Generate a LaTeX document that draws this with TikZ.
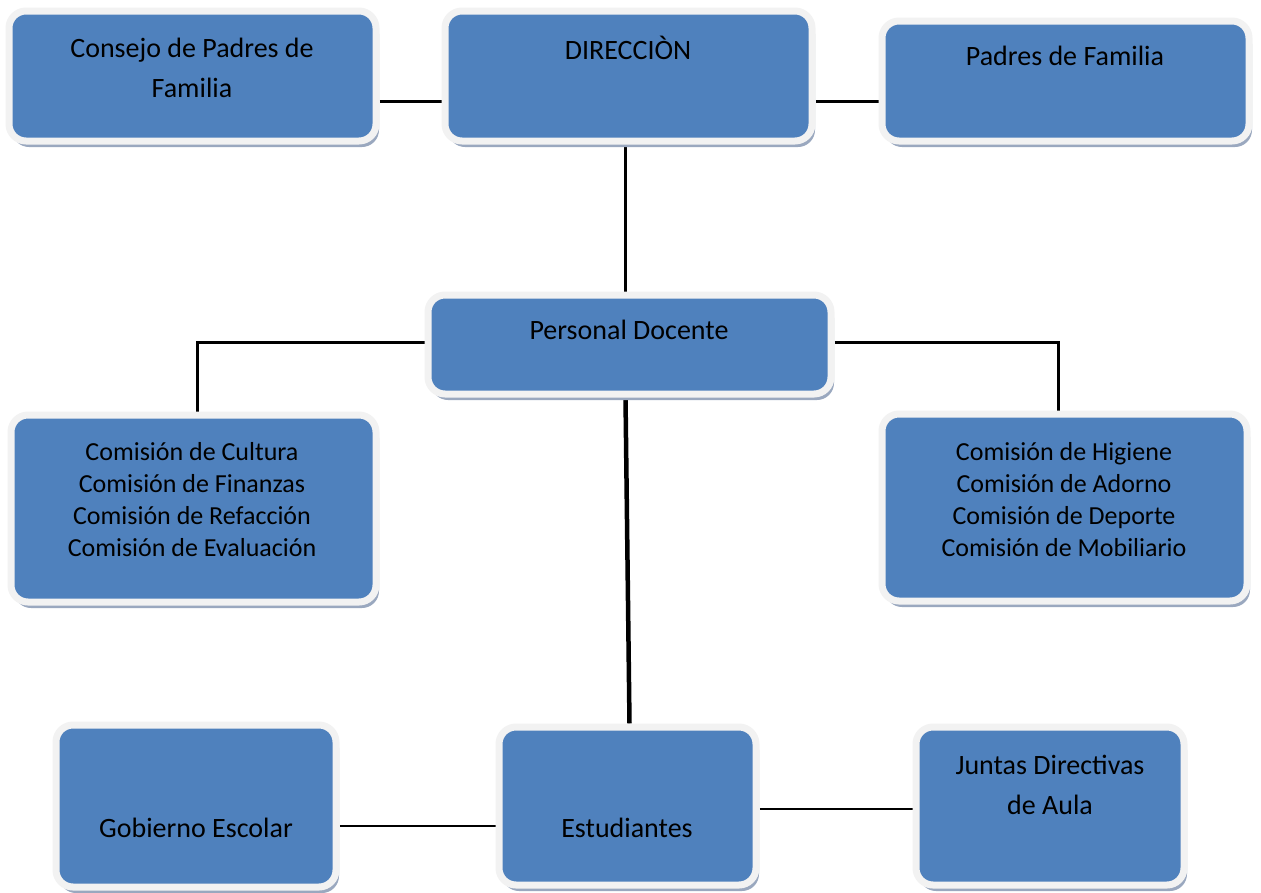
\documentclass[tikz,border=0pt]{standalone}
\usepackage{fontspec}
\setmainfont{Carlito}
\usetikzlibrary{shadows,backgrounds}
\definecolor{boxblue}{HTML}{4F81BD}
\definecolor{boxrim}{HTML}{F2F2F2}
\definecolor{shadowblue}{HTML}{9AA8BF}
\tikzset{
  orgbox/.style={rectangle,rounded corners=17pt,fill=boxblue,draw=boxrim,line width=7pt,
    drop shadow={shadow xshift=3pt,shadow yshift=-6pt,fill=shadowblue,opacity=1}},
  bigtext/.style={align=center,font=\fontsize{28}{40}\selectfont},
  smalltext/.style={align=center,font=\fontsize{26}{32}\selectfont},
  link/.style={line width=3pt}
}
\begin{document}
\begin{tikzpicture}[x=1pt,y=-1pt]
\useasboundingbox (0,0) rectangle (1261,892);
\node at (192.5,76)[orgbox,minimum width=367pt,minimum height=130pt] (consejo) {};
\node at (628.5,76)[orgbox,minimum width=367pt,minimum height=130pt] (dir) {};
\node at (1065.5,81)[orgbox,minimum width=367pt,minimum height=120pt] (padres) {};
\node at (629.5,344.5)[orgbox,minimum width=403pt,minimum height=99pt] (personal) {};
\node at (193.5,508.5)[orgbox,minimum width=365pt,minimum height=187pt] (comizq) {};
\node at (1064.5,507.5)[orgbox,minimum width=365pt,minimum height=187pt] (comder) {};
\node at (196,806)[orgbox,minimum width=280pt,minimum height=162pt] (gobierno) {};
\node at (627.5,806)[orgbox,minimum width=257pt,minimum height=158pt] (estud) {};
\node at (1050,806)[orgbox,minimum width=268pt,minimum height=158pt] (juntas) {};
\node at (192,68)[bigtext] (consejoT) {Consejo de Padres de\\Familia};
\node at (628,48)[bigtext] (dirT) {DIRECCIÒN};
\node at (1065,56)[bigtext] (padresT) {Padres de Familia};
\node at (629,330)[bigtext] (personalT) {Personal Docente};
\node at (192,500)[smalltext] (comizqT) {Comisión de Cultura\\Comisión de Finanzas\\Comisión de Refacción\\Comisión de Evaluación};
\node at (1064,500)[smalltext] (comderT) {Comisión de Higiene\\Comisión de Adorno\\Comisión de Deporte\\Comisión de Mobiliario};
\node at (196,828)[bigtext] (gobiernoT) {Gobierno Escolar};
\node at (627,828)[bigtext] (estudT) {Estudiantes};
\node at (1050,785)[bigtext] (juntasT) {Juntas Directivas\\de Aula};
\begin{scope}[on background layer]
\draw[link] (consejo.east |- 0,101) -- (dir.west |- 0,101);
\draw[link] (dir.east |- 0,101) -- (padres.west |- 0,101);
\draw[link] ([xshift=-3pt]dir.south) -- ([xshift=-3pt]dir.south |- personal.north);
\draw[link] (personal.west |- 0,342) -| ([xshift=4pt]comizq.north);
\draw[link] (personal.east |- 0,342) -| ([xshift=-6pt]comder.north);
\draw[line width=4.5pt] ([xshift=-4pt]personal.south) -- ([xshift=2pt]estud.north);
\draw[line width=1.5pt] (gobierno.east |- 0,826) -- (estud.west |- 0,826);
\draw[line width=1.5pt] (estud.east |- 0,809) -- (juntas.west |- 0,809);
\end{scope}
\end{tikzpicture}
\end{document}
